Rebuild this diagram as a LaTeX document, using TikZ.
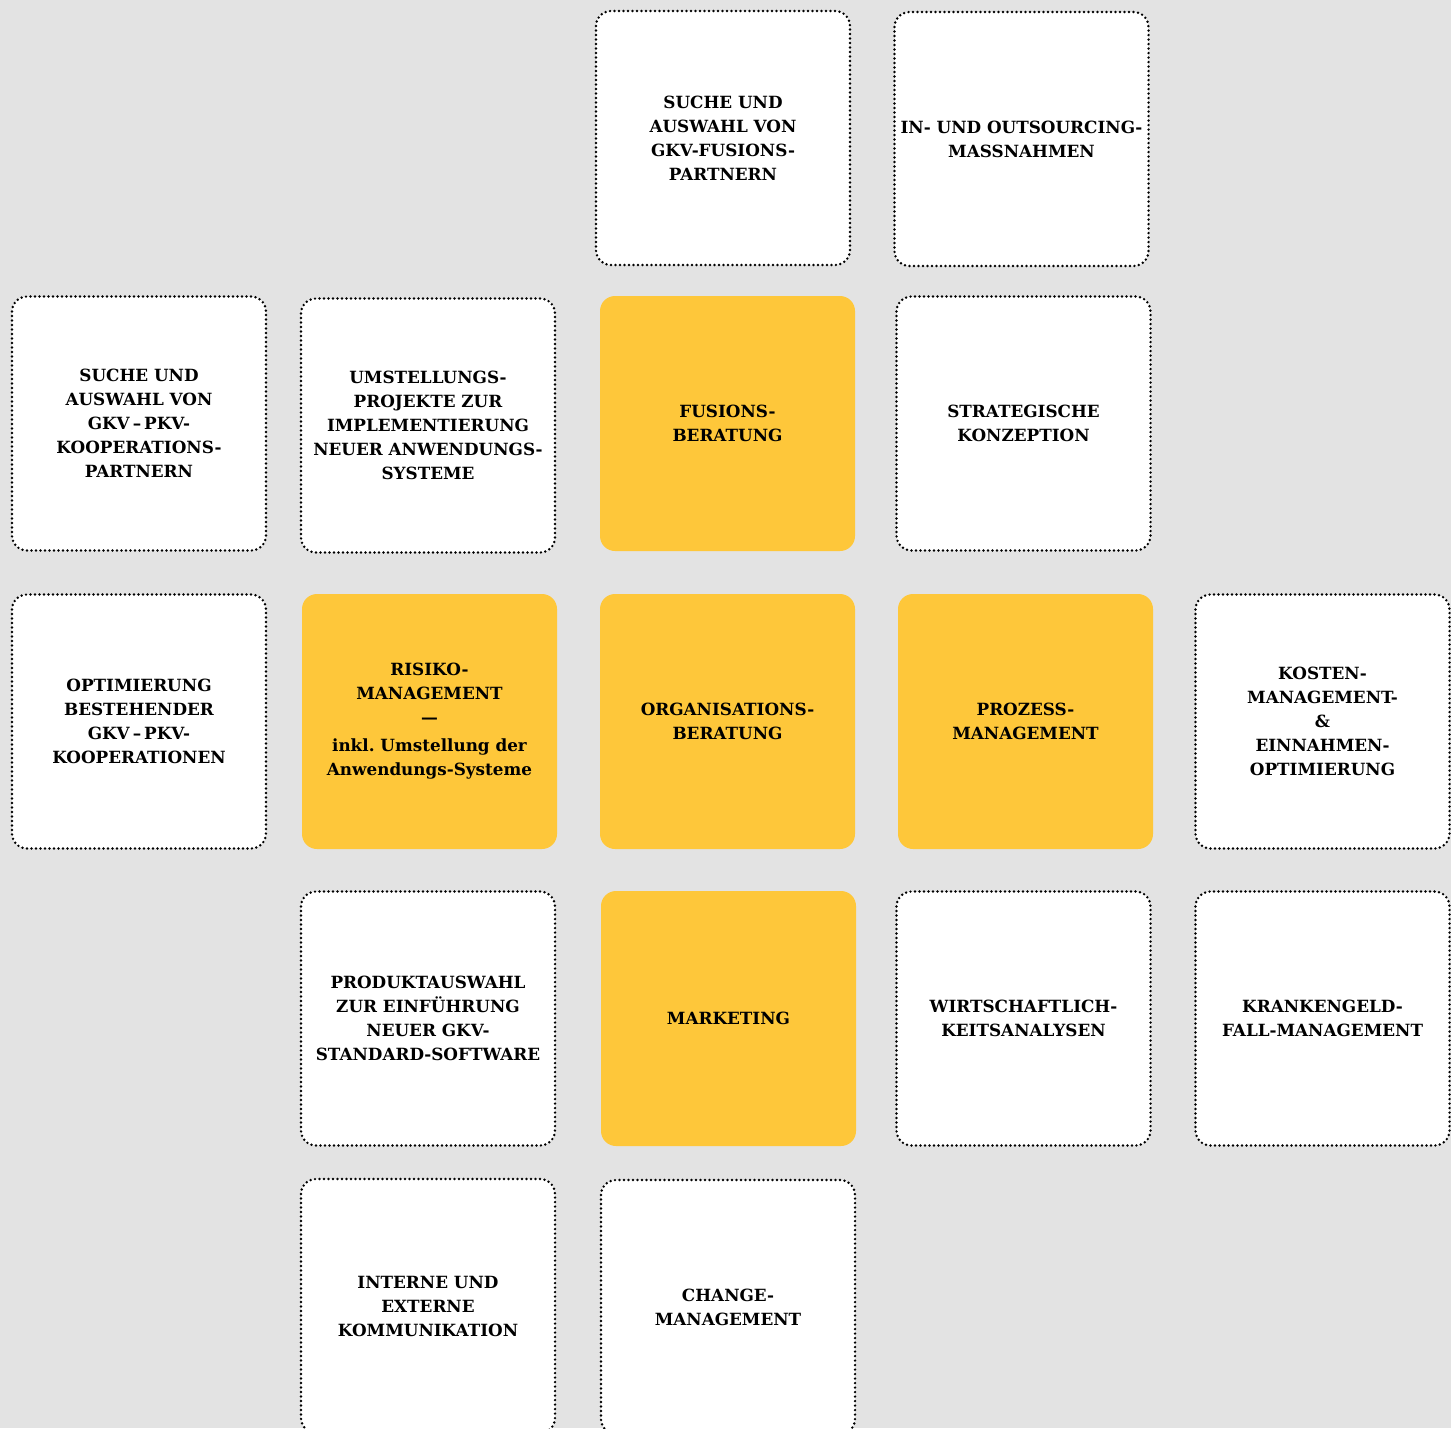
\documentclass[tikz,border=0pt]{standalone}
\usepackage{fontspec}
\setmainfont{DejaVu Serif}
\frenchspacing
\definecolor{bg}{HTML}{E3E3E3}
\definecolor{gelb}{HTML}{FEC73A}
\tikzset{
  card/.style={rounded corners=15pt, minimum width=254pt, minimum height=254pt,
    align=center, inner sep=0pt, text=black,
    font=\fontsize{16.8pt}{24pt}\selectfont\bfseries},
  wbox/.style={card, fill=white, draw=black, line width=2.7pt,
    dash pattern=on 0pt off 4.5pt, line cap=round},
  ybox/.style={card, fill=gelb, minimum width=255pt, minimum height=255pt},
}
\begin{document}
\begin{tikzpicture}[x=1pt,y=-1pt]
\useasboundingbox (0,0) rectangle (1451,1428);
\fill[bg] (0,0) rectangle (1451,1428);
\begin{scope}
\clip (0,0) rectangle (1451,1428);
% row 1
\node[wbox] (a1) at (723,138) {SUCHE UND\\AUSWAHL VON\\GKV-FUSIONS-\\PARTNERN};
\node[wbox] (a2) at (1021.5,139) {IN- UND OUTSOURCING-\\MASSNAHMEN};
% row 2
\node[wbox] (b1) at (139,423.5) {SUCHE UND\\AUSWAHL VON\\GKV\kern3pt–\kern3pt PKV-\\KOOPERATIONS-\\PARTNERN};
\node[wbox] (b2) at (428,425.5) {UMSTELLUNGS-\\PROJEKTE ZUR\\IMPLEMENTIERUNG\\NEUER ANWENDUNGS-\\SYSTEME};
\node[ybox] (b3) at (727.5,423.5) {FUSIONS-\\BERATUNG};
\node[wbox] (b4) at (1023.5,423.5) {STRATEGISCHE\\KONZEPTION};
% row 3
\node[wbox] (c1) at (139,721.5) {OPTIMIERUNG\\BESTEHENDER\\GKV\kern3pt–\kern3pt PKV-\\KOOPERATIONEN};
\node[ybox] (c2) at (429.5,721.5) {RISIKO-\\MANAGEMENT\\—\\[4pt]inkl. Umstellung der\\Anwendungs-Systeme};
\node[ybox] (c3) at (727.5,721.5) {ORGANISATIONS-\\BERATUNG};
\node[ybox] (c4) at (1025.5,721.5) {PROZESS-\\MANAGEMENT};
\node[wbox] (c5) at (1322.5,721.5) {KOSTEN-\\MANAGEMENT-\\\&\\EINNAHMEN-\\OPTIMIERUNG};
% row 4
\node[wbox] (d1) at (428,1018.5) {PRODUKTAUSWAHL\\ZUR EINFÜHRUNG\\NEUER GKV-\\STANDARD-SOFTWARE};
\node[ybox] (d2) at (728.5,1018.5) {MARKETING};
\node[wbox] (d3) at (1023.5,1018.5) {WIRTSCHAFTLICH-\\KEITSANALYSEN};
\node[wbox] (d4) at (1322.5,1018.5) {KRANKENGELD-\\FALL-MANAGEMENT};
% row 5
\node[wbox] (e1) at (428,1306) {INTERNE UND\\EXTERNE\\KOMMUNIKATION};
\node[wbox] (e2) at (728,1307) {CHANGE-\\MANAGEMENT};
\end{scope}
\end{tikzpicture}
\end{document}
